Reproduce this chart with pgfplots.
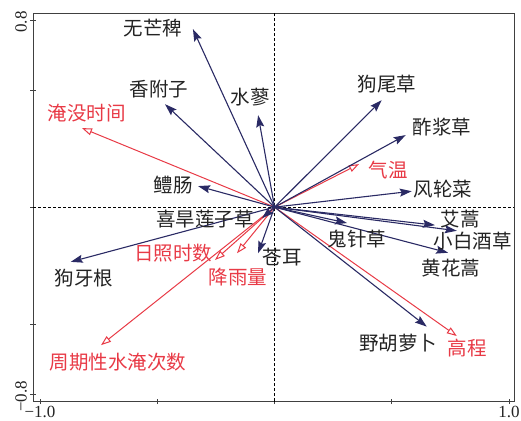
\documentclass[border=0pt]{standalone}
\usepackage{fontspec}
\setmainfont{Liberation Serif}
\newfontfamily\cjk{Noto Sans CJK SC}
\usepackage{pgfplots}
\pgfplotsset{compat=1.18}
\usepackage{pgfplotstable}
\usetikzlibrary{arrows.meta}

\definecolor{spc}{RGB}{42,42,100}
\definecolor{env}{RGB}{232,58,70}
\definecolor{txt}{RGB}{35,35,35}

\tikzset{
  sp/.style={font=\cjk\fontsize{19.5bp}{22bp}\selectfont, inner sep=0pt, text=txt},
  ev/.style={font=\cjk\fontsize{19.5bp}{22bp}\selectfont, inner sep=0pt, text=env},
}

% species scores (arrow ends)
\pgfplotstableread{
u v
-0.348 0.761
-0.467 0.440
-0.070 0.393
-0.326 0.090
0.457 0.457
0.559 0.308
0.585 0.068
0.684 -0.077
0.777 -0.101
0.740 -0.195
0.309 -0.068
0.649 -0.511
-0.070 -0.197
-0.869 -0.234
-0.053 -0.047
}\species

% environmental factors
\pgfplotstableread{
u v
-0.821 0.338
0.360 0.184
-0.254 -0.226
-0.160 -0.197
-0.740 -0.590
0.777 -0.551
}\envir

\begin{document}
\begin{tikzpicture}
\begin{axis}[
    scale only axis, width=481bp, height=388.5bp,
    xmin=-1.030, xmax=1.021, ymin=-0.831, ymax=0.830,
    axis line style={line width=0.9bp, black!75},
    xtick={-1,-0.5,0,0.5,1}, xticklabels={\textminus1.0,,,,1.0},
    ytick={-0.8,-0.5,0,0.5,0.8}, yticklabels={\textminus0.8,,,,0.8},
    yticklabel style={rotate=90, anchor=south, xshift=-2bp},
    xticklabel style={inner sep=1bp, yshift=-1bp},
    xtick pos=bottom, ytick pos=left,
    tick align=center, major tick length=5bp,
    tick style={black!75, line width=0.8bp},
    ticklabel style={font=\fontsize{17bp}{18bp}\selectfont, text=txt},
    clip=false,
]
\coordinate (sw) at (rel axis cs:0,0);
\coordinate (ne) at (rel axis cs:1,1);

\addplot[black, line width=0.8bp, dash pattern=on 3bp off 2bp] coordinates {(-1.030,0) (1.021,0)};
\addplot[black, line width=0.8bp, dash pattern=on 3bp off 2bp] coordinates {(0,-0.831) (0,0.830)};

\addplot[env, line width=1bp, -{Triangle[open, length=10bp, width=7bp]},
    quiver={u=\thisrow{u}, v=\thisrow{v}}] table[x expr=0, y expr=0] {\envir};
\addplot[spc, line width=1.1bp, -{Stealth[length=12bp, width=8bp, inset=2bp]},
    quiver={u=\thisrow{u}, v=\thisrow{v}}] table[x expr=0, y expr=0] {\species};

% species labels
\node[sp] at (axis cs:-0.518,0.765) {无芒稗};
\node[sp] at (axis cs:-0.493,0.504) {香附子};
\node[sp] at (axis cs:-0.104,0.470) {水蓼};
\node[sp] at (axis cs:-0.433,0.094) {鳢肠};
\node[sp] at (axis cs:0.480,0.526) {狗尾草};
\node[sp] at (axis cs:0.714,0.342) {酢浆草};
\node[sp] at (axis cs:0.719,0.077) {风轮菜};
\node[sp] at (axis cs:-0.296,-0.051) {喜旱莲子草};
\node[sp] at (axis cs:-0.812,-0.303) {狗牙根};
\node[sp] at (axis cs:0.032,-0.214) {苍耳};
\node[sp] at (axis cs:0.352,-0.137) {鬼针草};
\node[sp] at (axis cs:0.791,-0.051) {艾蒿};
\node[sp] at (axis cs:0.846,-0.145) {小白酒草};
\node[sp] at (axis cs:0.753,-0.261) {黄花蒿};
\node[sp] at (axis cs:0.527,-0.581) {野胡萝卜};
% environmental labels
\node[ev] at (axis cs:-0.800,0.402) {淹没时间};
\node[ev] at (axis cs:0.484,0.158) {气温};
\node[ev] at (axis cs:-0.433,-0.197) {日照时数};
\node[ev] at (axis cs:-0.156,-0.299) {降雨量};
\node[ev] at (axis cs:-0.667,-0.662) {周期性水淹次数};
\node[ev] at (axis cs:0.821,-0.603) {高程};
\end{axis}
\pgfresetboundingbox
\path[use as bounding box] ([xshift=-33bp,yshift=-19.5bp]sw) rectangle ([xshift=7bp,yshift=13bp]ne);
\end{tikzpicture}
\end{document}
